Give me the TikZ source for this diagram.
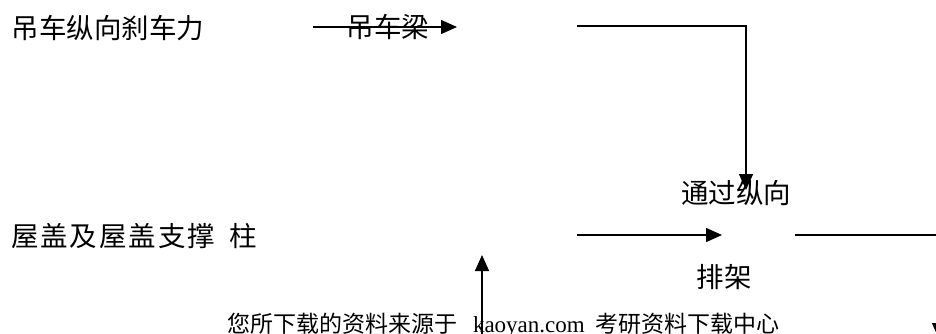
\documentclass[tikz,border=0pt]{standalone}
\usepackage{fontspec}
\setmainfont{Liberation Serif}
\newfontfamily\cjk{Noto Sans CJK SC}
\newfontfamily\cjkwide{Noto Sans CJK SC}[LetterSpace=7]
\usetikzlibrary{arrows.meta}
\begin{document}
\begin{tikzpicture}[x=1pt,y=-1pt,
  lbl/.style={inner sep=0pt, outer sep=0pt, font=\cjk\fontsize{27.5}{30}\selectfont},
  conn/.style={line width=1.4pt, -{Triangle[length=16pt,width=14pt]}}]
\useasboundingbox (0,0) rectangle (936,333);
\clip (0,0) rectangle (936,333);
% texts
\node[lbl, anchor=west] (crane) at (11.5,28) {吊车纵向刹车力};
\node[lbl] (beam) at (388,27) {吊车梁};
\node[lbl, anchor=west] (thru) at (681,193) {通过纵向};
\node[lbl, anchor=west] (roof) at (11,236) {{\cjkwide 屋盖及屋盖支撑}\hspace{14pt}柱};
\node[lbl, anchor=west] (frame) at (696.5,277) {排架};
\node[anchor=base west, inner sep=0pt, outer sep=0pt, font=\fontsize{23}{25}\selectfont] (wm) at (227,332)
  {\cjk 您所下载的资料来源于\hspace{16pt}\rmfamily kaoyan.com\hspace{11pt}\cjk 考研资料下载中心};
% connector points
\coordinate (a1s) at (313,27);
\coordinate (a1e) at (457,27);
\coordinate (b1s) at (577,26);
\coordinate (b1e) at (746,190);
\coordinate (a2s) at (577,235);
\coordinate (a2e) at (722,235);
\coordinate (a3s) at (795,235);
\coordinate (a3c) at (939,235);
\coordinate (a3e) at (939,339);
\coordinate (upS) at (482,345);
\coordinate (upE) at (482,255);
% connectors
\draw[conn] (a1s) -- (a1e);
\draw[conn] (b1s) -| (b1e);
\draw[conn] (a2s) -- (a2e);
\draw[conn] (a3s) -- (a3c) -- (a3e);
\draw[conn] (upS) -- (upE);
\end{tikzpicture}
\end{document}
